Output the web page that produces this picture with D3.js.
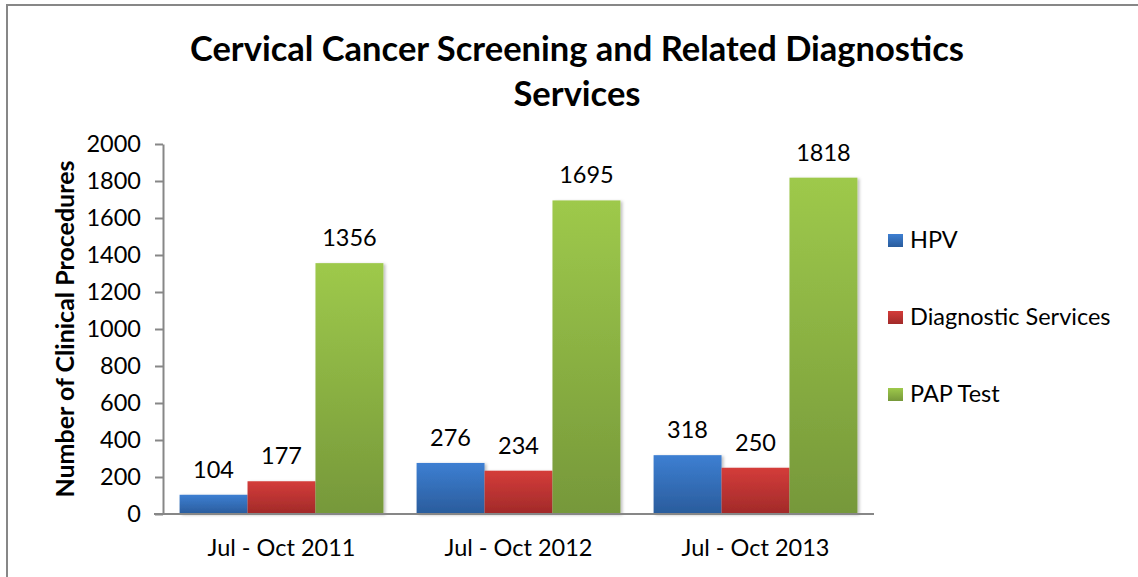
<!DOCTYPE html>
<head>
  <meta charset="utf-8">
  <script src="https://d3js.org/d3.v7.min.js"></script>
  <style>
    body { margin:0; background:white; }
    text { font-family: Lato, 'Open Sans', sans-serif; }
  </style>
</head>
<body>
<script>
  // chart data
  const periods = ['Jul - Oct 2011', 'Jul - Oct 2012', 'Jul - Oct 2013'];
  const seriesNames = ['HPV', 'Diagnostic Services', 'PAP Test'];
  const hpv = [104, 276, 318];
  const diagnostic = [177, 234, 250];
  const pap = [1356, 1695, 1818];
  const yTicks = [0, 200, 400, 600, 800, 1000, 1200, 1400, 1600, 1800, 2000];

  const W = 1138, H = 577;
  const margin = {left: 163, right: 264, top: 144, bottom: 63};
  const fontSize = '23.5px';

  const svg = d3.select('body').append('svg')
      .attr('width', W)
      .attr('height', H);

  // gradients for the bars
  const colors = [
    ['#3d7fd2', '#2a5c9c'],
    ['#d43c3a', '#a12a29'],
    ['#9ec94b', '#76983a']
  ];
  const defs = svg.append('defs');
  colors.forEach((c, i) => {
    const g = defs.append('linearGradient')
        .attr('id', 'grad' + i)
        .attr('x1', 0).attr('y1', 0).attr('x2', 0).attr('y2', 1);
    g.append('stop').attr('offset', '0%').attr('stop-color', c[0]);
    g.append('stop').attr('offset', '100%').attr('stop-color', c[1]);
  });
  const f = defs.append('filter').attr('id', 'shadow')
      .attr('x', '-10%').attr('y', '-10%').attr('width', '130%').attr('height', '130%');
  f.append('feDropShadow').attr('dx', 2).attr('dy', 1).attr('stdDeviation', 1.5)
      .attr('flood-color', '#000').attr('flood-opacity', 0.25);

  // outer border
  svg.append('rect')
      .attr('x', 7).attr('y', 5)
      .attr('width', W).attr('height', H)
      .style('fill', 'none')
      .style('stroke', '#878787')
      .style('stroke-width', 2);

  const x0 = d3.scaleBand()
      .domain(periods)
      .range([margin.left, W - margin.right])
      .paddingInner(0.14)
      .paddingOuter(0.07);

  const x1 = d3.scaleBand()
      .domain(seriesNames)
      .range([0, x0.bandwidth()]);

  const y = d3.scaleLinear()
      .domain([0, 2000])
      .range([H - margin.bottom, margin.top]);

  // y axis
  const yAxis = svg.append('g')
      .attr('transform', `translate(${margin.left},0)`)
      .call(d3.axisLeft(y).tickValues(yTicks).tickFormat(d3.format('d'))
        .tickSize(8).tickSizeOuter(0).tickPadding(14));
  yAxis.select('.domain').style('stroke', '#878787').style('stroke-width', 2);
  yAxis.selectAll('.tick line').style('stroke', '#878787').style('stroke-width', 2);
  yAxis.selectAll('text')
      .style('font-size', fontSize)
      .style('font-family', 'Lato, sans-serif')
      .style('fill', '#000');

  // bars
  const values = [hpv, diagnostic, pap];
  const rows = [];
  periods.forEach((p, i) => {
    seriesNames.forEach((s, j) => {
      rows.push({period: p, series: s, idx: j, value: values[j][i]});
    });
  });

  svg.append('g')
    .selectAll('rect')
    .data(rows)
    .enter()
    .append('rect')
    .attr('x', d => x0(d.period) + x1(d.series))
    .attr('y', d => y(d.value))
    .attr('width', x1.bandwidth())
    .attr('height', d => y(0) - y(d.value))
    .style('fill', d => `url(#grad${d.idx})`)
    .style('filter', 'url(#shadow)');

  // value labels
  svg.append('g')
    .selectAll('text')
    .data(rows)
    .enter()
    .append('text')
    .attr('x', d => x0(d.period) + x1(d.series) + x1.bandwidth() / 2)
    .attr('y', d => y(d.value) - 17)
    .attr('text-anchor', 'middle')
    .style('font-size', fontSize)
    .text(d => d.value);

  // x axis
  const xAxis = svg.append('g')
      .attr('transform', `translate(0,${y(0)})`)
      .call(d3.axisBottom(x0).tickSize(0).tickPadding(25));
  xAxis.select('.domain')
      .attr('d', `M${margin.left - 9},0H${W - margin.right}`)
      .style('stroke', '#878787').style('stroke-width', 2);
  xAxis.selectAll('text')
      .style('font-size', fontSize)
      .style('font-family', 'Lato, sans-serif')
      .style('fill', '#000');

  // y axis title
  svg.append('text')
      .attr('transform', `translate(74,${(y(0) + y(2000)) / 2}) rotate(-90)`)
      .attr('text-anchor', 'middle')
      .style('font-size', '25px')
      .style('font-weight', 'bold')
      .text('Number of Clinical Procedures');

  // chart title
  const title = svg.append('text')
      .attr('text-anchor', 'middle')
      .style('font-size', '34.5px')
      .style('font-weight', 'bold');
  title.append('tspan').attr('x', 577).attr('y', 61)
      .text('Cervical Cancer Screening and Related Diagnostics');
  title.append('tspan').attr('x', 577).attr('y', 106)
      .text('Services');

  // legend
  const legend = svg.append('g')
      .selectAll('g')
      .data(seriesNames)
      .enter()
      .append('g')
      .attr('transform', (d, i) => `translate(888,${248 + i * 77})`);
  legend.append('rect')
      .attr('x', 0).attr('y', -14)
      .attr('width', 15).attr('height', 13)
      .style('fill', (d, i) => `url(#grad${i})`);
  legend.append('text')
      .attr('x', 22).attr('y', 0)
      .style('font-size', fontSize)
      .text(d => d);
</script>
</body>
